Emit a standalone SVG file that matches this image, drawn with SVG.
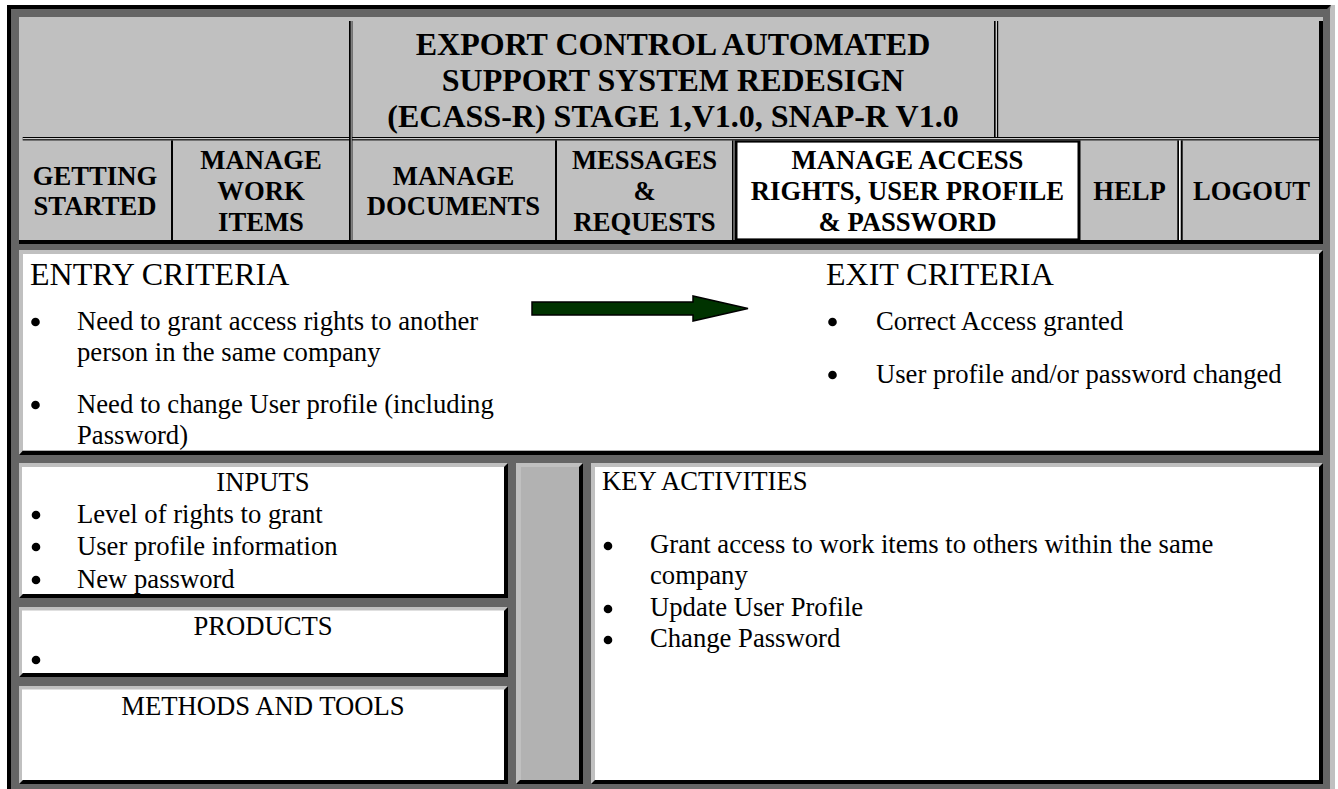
<svg xmlns="http://www.w3.org/2000/svg" width="1338" height="789" viewBox="0 0 1338 789">
<style>
.t{font-family:"Liberation Serif","Times New Roman",serif;fill:#000}
.nav{font-weight:bold;font-size:26.67px;text-anchor:middle}
.ttl{font-weight:bold;font-size:32px;text-anchor:middle}
.hd{font-size:32px}
.bd{font-size:26.67px}
.mid{text-anchor:middle}
.lt{fill:#c0c0c0}
.dk{fill:#000}
.wh{fill:#fff}
.bu{fill:#000}
</style>
<defs>
<circle id="bullet" r="4.3"/>
</defs>
<rect width="1338" height="789" fill="#fff"/>
<g id="frame">
<rect x="7" y="5" width="1328" height="784" fill="#656565"/>
<path class="dk" d="M7 5H1331L1327 9H11V789H7Z"/>
<path class="lt" d="M1335 5V789H1330V9L1331 5Z"/>
</g>
<g id="header">
<rect class="lt" x="19" y="17" width="1304" height="227"/>
<rect class="dk" x="1319" y="21" width="4" height="223"/>
<rect class="dk" x="19" y="240" width="1304" height="4"/>
<rect class="dk" x="22.7" y="137" width="1296.3" height="3.4"/>
<rect class="wh" x="22.7" y="138.2" width="1296.3" height="1"/>
<rect class="dk" x="349" y="21" width="3.4" height="219"/>
<rect class="wh" x="350.8" y="21" width="0.7" height="219"/>
<rect class="dk" x="994" y="21" width="4.2" height="116"/>
<rect class="wh" x="995.7" y="21" width="1.1" height="116"/>
</g>
<g id="title">
<text class="t ttl" x="673" y="55">EXPORT CONTROL AUTOMATED</text>
<text class="t ttl" x="673" y="91">SUPPORT SYSTEM REDESIGN</text>
<text class="t ttl" x="673" y="127">(ECASS-R) STAGE 1,V1.0, SNAP-R V1.0</text>
</g>
<g id="nav-getting-started">
<text class="t nav" x="95" y="185">GETTING</text>
<text class="t nav" x="95" y="215">STARTED</text>
</g>
<rect class="dk" x="171" y="140.4" width="2" height="99.6"/>
<g id="nav-manage-work-items">
<text class="t nav" x="261" y="168.5">MANAGE</text>
<text class="t nav" x="261" y="199.5">WORK</text>
<text class="t nav" x="261" y="230.5">ITEMS</text>
</g>
<g id="nav-manage-documents">
<text class="t nav" x="453.5" y="185">MANAGE</text>
<text class="t nav" x="453.5" y="215">DOCUMENTS</text>
</g>
<rect class="dk" x="555" y="140.4" width="2" height="99.6"/>
<g id="nav-messages-requests">
<text class="t nav" x="644.5" y="168.5">MESSAGES</text>
<text class="t nav" x="644.5" y="199.5">&amp;</text>
<text class="t nav" x="644.5" y="230.5">REQUESTS</text>
</g>
<rect class="dk" x="732" y="140.4" width="1.5" height="99.6"/>
<g id="nav-manage-access">
<rect class="dk" x="734.5" y="140.4" width="346" height="101.3"/>
<rect class="wh" x="737.5" y="142.6" width="340" height="95.8"/>
<text class="t nav" x="907.5" y="168.5">MANAGE ACCESS</text>
<text class="t nav" x="907.5" y="199.5">RIGHTS, USER PROFILE</text>
<text class="t nav" x="907.5" y="230.5">&amp; PASSWORD</text>
</g>
<g id="nav-help">
<text class="t nav" x="1129.5" y="200">HELP</text>
</g>
<rect class="dk" x="1177.3" y="140.4" width="5.4" height="99.6"/>
<rect class="wh" x="1179" y="140.4" width="1.7" height="99.6"/>
<g id="nav-logout">
<text class="t nav" x="1251.5" y="200">LOGOUT</text>
</g>
<g id="criteria">
<rect class="lt" x="19" y="250" width="1304" height="205"/>
<path class="dk" d="M1323 250V455H19L23 450.5H1319V254Z"/>
<rect class="wh" x="23" y="254" width="1296" height="196.5"/>
<text class="t hd" x="30" y="285">ENTRY CRITERIA</text>
<use href="#bullet" class="bu" x="35.5" y="322"/>
<text class="t bd" x="77" y="330">Need to grant access rights to another</text>
<text class="t bd" x="77" y="361">person in the same company</text>
<use href="#bullet" class="bu" x="35.5" y="405"/>
<text class="t bd" x="77" y="413">Need to change User profile (including</text>
<text class="t bd" x="77" y="444">Password)</text>
<text class="t hd" x="826" y="285">EXIT CRITERIA</text>
<use href="#bullet" class="bu" x="832.5" y="322"/>
<text class="t bd" x="876" y="330">Correct Access granted</text>
<use href="#bullet" class="bu" x="832.5" y="375"/>
<text class="t bd" x="876" y="383">User profile and/or password changed</text>
</g>
<g id="connectors">
<polygon points="532,302 693,302 693,296 748,308.5 693,321 693,315 532,315" fill="#003300" stroke="#000" stroke-width="1.5" stroke-linejoin="miter"/>
</g>
<g id="inputs">
<rect class="lt" x="19" y="463" width="489" height="135"/>
<path class="dk" d="M508 463V598H19L23 594H504V467Z"/>
<rect class="wh" x="22" y="467" width="482" height="127"/>
<text class="t bd mid" x="263" y="491">INPUTS</text>
<use href="#bullet" class="bu" x="36" y="515"/>
<text class="t bd" x="77" y="523">Level of rights to grant</text>
<use href="#bullet" class="bu" x="36" y="547"/>
<text class="t bd" x="77" y="555">User profile information</text>
<use href="#bullet" class="bu" x="36" y="580"/>
<text class="t bd" x="77" y="588">New password</text>
</g>
<g id="products">
<rect class="lt" x="19" y="607" width="489" height="70"/>
<path class="dk" d="M508 607V677H19L23 673H504V611Z"/>
<rect class="wh" x="22" y="610.5" width="482" height="62.5"/>
<text class="t bd mid" x="263" y="635">PRODUCTS</text>
<use href="#bullet" class="bu" x="36" y="660"/>
</g>
<g id="methods">
<rect class="lt" x="19" y="686" width="489" height="98"/>
<path class="dk" d="M508 686V784H19L23 780H504V690Z"/>
<rect class="wh" x="22" y="689.5" width="482" height="90.5"/>
<text class="t bd mid" x="263" y="715">METHODS AND TOOLS</text>
</g>
<g id="spacer">
<rect class="lt" x="516" y="463" width="67" height="321"/>
<path class="dk" d="M583 463V784H516L520 780H579V467Z"/>
<rect x="521" y="467" width="58" height="313" fill="#b2b2b2"/>
</g>
<g id="key-activities">
<rect class="lt" x="591" y="463" width="732" height="321"/>
<path class="dk" d="M1323 463V784H591L595 780H1319V467Z"/>
<rect class="wh" x="595" y="467" width="724" height="313"/>
<text class="t bd" x="602" y="490">KEY ACTIVITIES</text>
<use href="#bullet" class="bu" x="608" y="546"/>
<text class="t bd" x="650" y="553">Grant access to work items to others within the same</text>
<text class="t bd" x="650" y="584">company</text>
<use href="#bullet" class="bu" x="608" y="609"/>
<text class="t bd" x="650" y="616">Update User Profile</text>
<use href="#bullet" class="bu" x="608" y="640"/>
<text class="t bd" x="650" y="647">Change Password</text>
</g>
</svg>
